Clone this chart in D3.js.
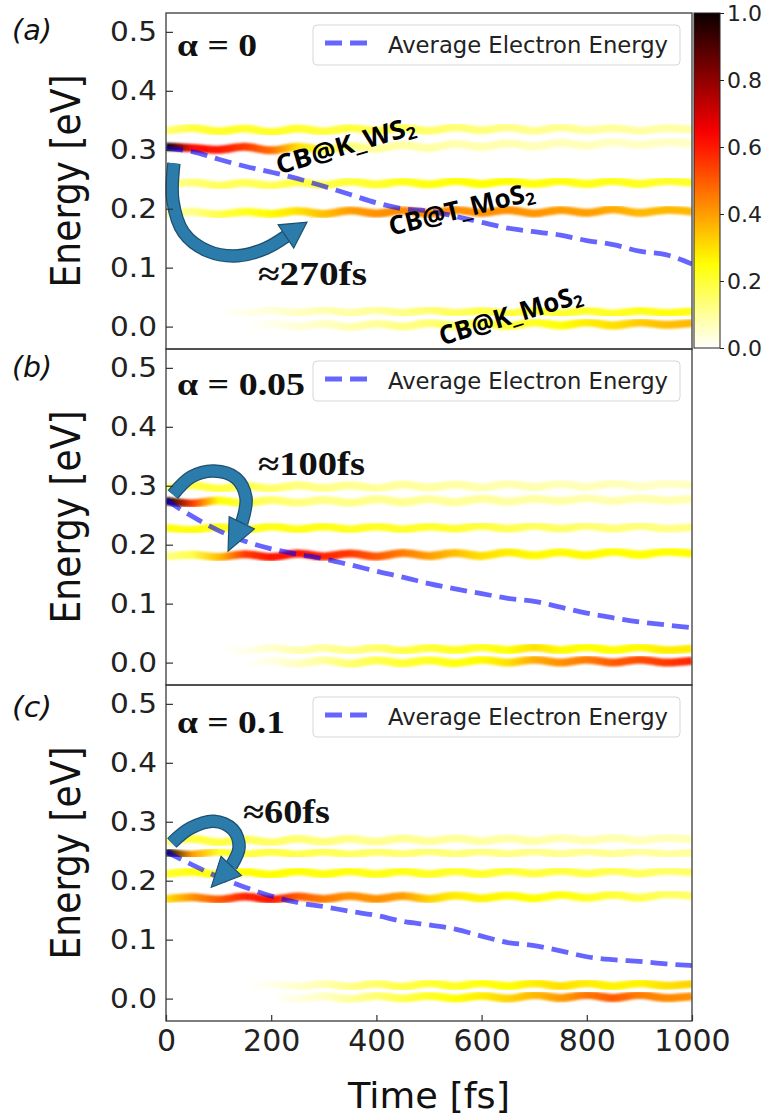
<!DOCTYPE html>
<html>
<head>
<meta charset="utf-8">
<script src="https://cdn.jsdelivr.net/npm/d3@7"></script>
<style>
    body { margin: 0; background: #fff; }
</style>
</head>
<body>
<svg id="chart" width="762" height="1120"></svg>
<script>
// time grid (fs) shared by every series
const times = [0, 50, 100, 150, 200, 250, 300, 350, 400, 450, 500, 550, 600, 650, 700, 750, 800, 850, 900, 950, 1000];

const yTicks = [0, 0.1, 0.2, 0.3, 0.4, 0.5];
const xTicks = [0, 200, 400, 600, 800, 1000];
const cbTicks = [0, 0.2, 0.4, 0.6, 0.8, 1.0];

const panelLabels = ["(a)", "(b)", "(c)"];
const alphaLabels = ["α = 0", "α = 0.05", "α = 0.1"];
const transferLabels = ["≈270fs", "≈100fs", "≈60fs"];
const legendLabel = "Average Electron Energy";
const stateNames = ["CB@K_WS", "CB@T_MoS", "CB@K_MoS"];

// average electron energy (eV)
const avgA = [0.302, 0.297, 0.284, 0.272, 0.262, 0.251, 0.238, 0.224, 0.210, 0.200, 0.196, 0.187, 0.177, 0.167, 0.161, 0.155, 0.146, 0.139, 0.128, 0.122, 0.106];
const avgB = [0.276, 0.248, 0.224, 0.206, 0.193, 0.184, 0.176, 0.166, 0.155, 0.145, 0.134, 0.125, 0.117, 0.109, 0.104, 0.094, 0.084, 0.076, 0.069, 0.064, 0.059];
const avgC = [0.249, 0.227, 0.206, 0.189, 0.174, 0.163, 0.156, 0.148, 0.141, 0.131, 0.125, 0.118, 0.106, 0.095, 0.090, 0.081, 0.071, 0.066, 0.063, 0.059, 0.056];

// state energies (eV), one row per band, panel (a)
const energyA = [
    [0.332, 0.337, 0.331, 0.336, 0.330, 0.336, 0.331, 0.337, 0.332, 0.337, 0.332, 0.338, 0.333, 0.338, 0.332, 0.338, 0.333, 0.337, 0.332, 0.337, 0.334],
    [0.305, 0.303, 0.300, 0.305, 0.299, 0.305, 0.300, 0.306, 0.302, 0.308, 0.303, 0.310, 0.305, 0.311, 0.306, 0.312, 0.307, 0.313, 0.308, 0.313, 0.310],
    [0.240, 0.245, 0.239, 0.244, 0.239, 0.245, 0.240, 0.246, 0.241, 0.246, 0.241, 0.247, 0.242, 0.247, 0.242, 0.247, 0.242, 0.247, 0.242, 0.247, 0.244],
    [0.191, 0.195, 0.190, 0.195, 0.191, 0.196, 0.191, 0.197, 0.192, 0.197, 0.192, 0.198, 0.193, 0.198, 0.192, 0.198, 0.193, 0.199, 0.193, 0.198, 0.195],
    [0.025, 0.022, 0.027, 0.022, 0.028, 0.023, 0.028, 0.023, 0.028, 0.023, 0.028, 0.023, 0.027, 0.022, 0.027, 0.022, 0.027, 0.022, 0.027, 0.023, 0.026],
    [0.002, -0.001, 0.004, -0.001, 0.005, 0.000, 0.005, -0.001, 0.005, 0.000, 0.006, 0.001, 0.006, 0.001, 0.007, 0.002, 0.007, 0.002, 0.007, 0.003, 0.006]
];
// normalised occupation, panel (a)
const weightA = [
    [0.14, 0.19, 0.21, 0.21, 0.21, 0.21, 0.19, 0.19, 0.18, 0.17, 0.15, 0.14, 0.13, 0.12, 0.11, 0.11, 0.10, 0.10, 0.09, 0.09, 0.09],
    [1.00, 0.62, 0.60, 0.55, 0.47, 0.30, 0.18, 0.13, 0.10, 0.09, 0.09, 0.08, 0.08, 0.08, 0.07, 0.07, 0.07, 0.06, 0.06, 0.06, 0.06],
    [0.11, 0.14, 0.16, 0.17, 0.17, 0.19, 0.19, 0.20, 0.21, 0.23, 0.24, 0.25, 0.25, 0.25, 0.24, 0.24, 0.23, 0.23, 0.22, 0.21, 0.21],
    [0.08, 0.12, 0.18, 0.22, 0.26, 0.30, 0.35, 0.40, 0.42, 0.43, 0.43, 0.42, 0.42, 0.42, 0.41, 0.40, 0.40, 0.38, 0.36, 0.36, 0.36],
    [0.00, 0.00, 0.00, 0.02, 0.04, 0.06, 0.08, 0.09, 0.10, 0.12, 0.14, 0.16, 0.18, 0.19, 0.20, 0.21, 0.21, 0.22, 0.23, 0.24, 0.24],
    [0.00, 0.00, 0.00, 0.00, 0.02, 0.04, 0.06, 0.08, 0.10, 0.12, 0.14, 0.16, 0.18, 0.20, 0.22, 0.25, 0.28, 0.30, 0.33, 0.35, 0.36]
];

const energyB = [
    [0.296, 0.301, 0.295, 0.300, 0.295, 0.301, 0.296, 0.301, 0.296, 0.302, 0.297, 0.302, 0.297, 0.303, 0.298, 0.303, 0.298, 0.304, 0.299, 0.304, 0.301],
    [0.274, 0.270, 0.275, 0.270, 0.276, 0.271, 0.276, 0.271, 0.277, 0.272, 0.277, 0.272, 0.278, 0.273, 0.278, 0.274, 0.279, 0.274, 0.279, 0.275, 0.278],
    [0.229, 0.225, 0.230, 0.225, 0.231, 0.226, 0.231, 0.226, 0.231, 0.226, 0.231, 0.227, 0.232, 0.227, 0.232, 0.227, 0.232, 0.227, 0.232, 0.227, 0.230],
    [0.180, 0.183, 0.179, 0.184, 0.179, 0.185, 0.180, 0.185, 0.180, 0.186, 0.181, 0.186, 0.181, 0.187, 0.182, 0.187, 0.182, 0.188, 0.183, 0.188, 0.185],
    [0.023, 0.019, 0.024, 0.019, 0.025, 0.020, 0.025, 0.020, 0.025, 0.020, 0.025, 0.021, 0.026, 0.021, 0.026, 0.021, 0.026, 0.021, 0.026, 0.021, 0.024],
    [0.002, -0.002, 0.003, -0.003, 0.003, -0.002, 0.004, -0.002, 0.004, -0.001, 0.004, -0.001, 0.005, 0.000, 0.005, 0.000, 0.005, 0.000, 0.005, 0.000, 0.003]
];
const weightB = [
    [0.14, 0.19, 0.19, 0.17, 0.15, 0.13, 0.12, 0.11, 0.10, 0.10, 0.09, 0.09, 0.08, 0.08, 0.08, 0.07, 0.07, 0.07, 0.06, 0.06, 0.06],
    [1.00, 0.55, 0.25, 0.19, 0.15, 0.13, 0.12, 0.12, 0.11, 0.11, 0.10, 0.10, 0.10, 0.09, 0.09, 0.09, 0.08, 0.08, 0.08, 0.08, 0.08],
    [0.24, 0.24, 0.23, 0.23, 0.23, 0.23, 0.23, 0.22, 0.22, 0.21, 0.21, 0.20, 0.19, 0.17, 0.16, 0.15, 0.14, 0.13, 0.13, 0.12, 0.12],
    [0.12, 0.18, 0.35, 0.55, 0.60, 0.60, 0.58, 0.55, 0.50, 0.45, 0.40, 0.35, 0.30, 0.28, 0.26, 0.26, 0.26, 0.25, 0.25, 0.25, 0.25],
    [0.00, 0.00, 0.00, 0.02, 0.05, 0.08, 0.10, 0.12, 0.15, 0.18, 0.20, 0.22, 0.22, 0.25, 0.30, 0.26, 0.25, 0.25, 0.26, 0.28, 0.28],
    [0.00, 0.00, 0.00, 0.00, 0.03, 0.06, 0.10, 0.14, 0.18, 0.20, 0.22, 0.24, 0.26, 0.30, 0.38, 0.42, 0.45, 0.50, 0.52, 0.55, 0.58]
];

const energyC = [
    [0.266, 0.271, 0.265, 0.270, 0.265, 0.271, 0.266, 0.271, 0.266, 0.272, 0.267, 0.272, 0.267, 0.272, 0.267, 0.273, 0.268, 0.273, 0.268, 0.273, 0.270],
    [0.248, 0.244, 0.249, 0.244, 0.249, 0.244, 0.249, 0.244, 0.249, 0.245, 0.250, 0.245, 0.250, 0.245, 0.250, 0.245, 0.250, 0.245, 0.250, 0.245, 0.248],
    [0.211, 0.215, 0.210, 0.215, 0.210, 0.216, 0.211, 0.216, 0.211, 0.216, 0.211, 0.216, 0.211, 0.217, 0.212, 0.217, 0.212, 0.217, 0.212, 0.217, 0.214],
    [0.169, 0.172, 0.168, 0.173, 0.168, 0.173, 0.169, 0.174, 0.169, 0.174, 0.169, 0.175, 0.170, 0.175, 0.170, 0.176, 0.171, 0.176, 0.171, 0.177, 0.174],
    [0.023, 0.019, 0.024, 0.019, 0.025, 0.020, 0.025, 0.020, 0.025, 0.020, 0.026, 0.021, 0.026, 0.021, 0.026, 0.021, 0.026, 0.021, 0.026, 0.022, 0.025],
    [0.003, -0.001, 0.004, -0.002, 0.004, -0.001, 0.004, -0.001, 0.005, 0.000, 0.005, 0.000, 0.005, 0.000, 0.006, 0.001, 0.006, 0.001, 0.006, 0.001, 0.004]
];
const weightC = [
    [0.12, 0.19, 0.19, 0.17, 0.15, 0.14, 0.13, 0.12, 0.11, 0.11, 0.10, 0.10, 0.09, 0.09, 0.09, 0.08, 0.08, 0.08, 0.07, 0.07, 0.07],
    [1.00, 0.40, 0.22, 0.19, 0.19, 0.18, 0.17, 0.16, 0.15, 0.14, 0.14, 0.13, 0.13, 0.12, 0.12, 0.11, 0.11, 0.11, 0.10, 0.10, 0.10],
    [0.21, 0.24, 0.25, 0.25, 0.25, 0.25, 0.24, 0.24, 0.23, 0.23, 0.22, 0.21, 0.21, 0.20, 0.19, 0.19, 0.18, 0.17, 0.16, 0.15, 0.15],
    [0.30, 0.42, 0.50, 0.58, 0.60, 0.50, 0.45, 0.42, 0.42, 0.40, 0.32, 0.28, 0.27, 0.26, 0.25, 0.24, 0.22, 0.20, 0.18, 0.16, 0.15],
    [0.00, 0.00, 0.00, 0.00, 0.02, 0.05, 0.08, 0.12, 0.15, 0.18, 0.20, 0.22, 0.24, 0.25, 0.28, 0.30, 0.28, 0.27, 0.27, 0.30, 0.32],
    [0.00, 0.00, 0.00, 0.00, 0.00, 0.03, 0.06, 0.10, 0.14, 0.18, 0.22, 0.25, 0.28, 0.32, 0.36, 0.40, 0.46, 0.50, 0.45, 0.43, 0.42]
];

// curved transfer arrows in data units [t (fs), E (eV)], last point is the tip
const arrowA = [[15, 0.277], [13, 0.214], [34, 0.159], [80, 0.128], [137, 0.120], [190, 0.133], [228, 0.153], [268, 0.177]];
const arrowB = [[13, 0.285], [48, 0.315], [91, 0.325], [133, 0.313], [152, 0.280], [144, 0.237], [118, 0.189]];
const arrowC = [[11, 0.264], [46, 0.289], [91, 0.301], [127, 0.287], [139, 0.257], [124, 0.225], [86, 0.189]];

// state name anchors in panel (a): [t, E, angle, length]
const stateNamePos = [[215, 0.258, -16.5, 144], [428, 0.154, -14, 149], [525, -0.032, -17, 148]];

// matplotlib "hot_r"
function hotR(v) {
    let s = 1 - Math.max(0, Math.min(1, v));
    let r = s < 0.365079 ? 0.0416 + s / 0.365079 * 0.9584 : 1;
    let g = s < 0.365079 ? 0 : (s < 0.746032 ? (s - 0.365079) / 0.380953 : 1);
    let b = s < 0.746032 ? 0 : (s - 0.746032) / 0.253968;
    return d3.rgb(r * 255, g * 255, b * 255).formatHex();
}

const left = 166, right = 692, panelH = 336;
const panels = [
    {top: 13, avg: avgA, energy: energyA, weight: weightA, arrow: arrowA, labelY: 40, alphaY: 56, alphaW: 80, transfer: [258, 285, 109]},
    {top: 349, avg: avgB, energy: energyB, weight: weightB, arrow: arrowB, labelY: 377, alphaY: 395, alphaW: 128, transfer: [258, 475, 107]},
    {top: 685, avg: avgC, energy: energyC, weight: weightC, arrow: arrowC, labelY: 717, alphaY: 733, alphaW: 108, transfer: [243, 823, 87]}
];

const svg = d3.select("#chart");
const defs = svg.append("defs");
defs.append("filter")
    .attr("id", "soft")
    .attr("x", "-5%").attr("y", "-60%").attr("width", "110%").attr("height", "220%")
    .append("feGaussianBlur")
    .attr("stdDeviation", 0.9);

const x = d3.scaleLinear().domain([0, 1000]).range([left, right]);

panels.forEach((p, i) => {
    let y = d3.scaleLinear().domain([-0.038, 0.532]).range([p.top + panelH, p.top]);
    let g = svg.append("g");

    defs.append("clipPath").attr("id", "clip" + i)
        .append("rect")
        .attr("x", left).attr("y", p.top)
        .attr("width", right - left).attr("height", panelH);
    let plot = g.append("g").attr("clip-path", `url(#clip${i})`);

    let bandLine = d3.line()
        .x((d, k) => x(times[k]))
        .y(d => y(d))
        .curve(d3.curveCatmullRom);

    p.energy.forEach((band, j) => {
        let grad = defs.append("linearGradient")
            .attr("id", `w${i}_${j}`)
            .attr("gradientUnits", "userSpaceOnUse")
            .attr("x1", x(times[0])).attr("x2", x(times[times.length - 1]))
            .attr("y1", 0).attr("y2", 0);
        p.weight[j].forEach((w, k) => {
            grad.append("stop")
                .attr("offset", (x(times[k]) - left) / (right - left))
                .attr("stop-color", hotR(w));
        });
        plot.append("path")
            .datum(band)
            .attr("d", bandLine)
            .attr("fill", "none")
            .attr("stroke", `url(#w${i}_${j})`)
            .attr("stroke-width", 8)
            .attr("filter", "url(#soft)");
    });

    plot.append("path")
        .datum(p.avg)
        .attr("d", d3.line().x((d, k) => x(times[k])).y(d => y(d)).curve(d3.curveMonotoneX))
        .attr("fill", "none")
        .attr("stroke", "#0000ff")
        .attr("stroke-opacity", 0.6)
        .attr("stroke-width", 4.8)
        .attr("stroke-dasharray", "17,8");

    // transfer arrow
    let pts = p.arrow.map(d => [x(d[0]), y(d[1])]);
    let tip = pts[pts.length - 1], base = pts[pts.length - 2];
    let body = pts.slice(0, -1);
    let arrowLine = d3.line().curve(d3.curveCatmullRom);
    g.append("path").attr("d", arrowLine(body))
        .attr("fill", "none").attr("stroke", "#1d4f70").attr("stroke-width", 13.5);
    g.append("path").attr("d", arrowLine(body))
        .attr("fill", "none").attr("stroke", "#2b7cab").attr("stroke-width", 11);
    let dx = tip[0] - base[0], dy = tip[1] - base[1];
    let len = Math.hypot(dx, dy);
    let nx = -dy / len * 14, ny = dx / len * 14;
    g.append("polygon")
        .attr("points", [[base[0] + nx, base[1] + ny], tip, [base[0] - nx, base[1] - ny]].map(d => d.join(",")).join(" "))
        .attr("fill", "#2b7cab")
        .attr("stroke", "#1d4f70")
        .attr("stroke-width", 1.2);

    g.append("rect")
        .attr("x", left).attr("y", p.top)
        .attr("width", right - left).attr("height", panelH)
        .attr("fill", "none")
        .attr("stroke", "#3a3a3a")
        .attr("stroke-width", 1.3);

    let ya = g.append("g")
        .attr("transform", `translate(${left},0)`)
        .call(d3.axisLeft(y).tickValues(yTicks).tickFormat(d3.format(".1f"))
            .tickSizeInner(-7).tickSizeOuter(0).tickPadding(9));
    ya.select(".domain").remove();
    ya.selectAll("line").attr("stroke", "#333").attr("stroke-width", 1.2);
    ya.selectAll("text")
        .attr("font-family", "DejaVu Sans")
        .attr("font-size", 27)
        .attr("fill", "#222")
        .attr("textLength", 47)
        .attr("lengthAdjust", "spacingAndGlyphs");

    g.append("text")
        .attr("transform", `translate(80,${p.top + panelH / 2}) scale(1.25,1) rotate(-90)`)
        .attr("text-anchor", "middle")
        .attr("font-family", "DejaVu Sans")
        .attr("font-size", 33)
        .attr("fill", "#111")
        .attr("textLength", 213)
        .attr("lengthAdjust", "spacingAndGlyphs")
        .text("Energy [eV]");

    g.append("text")
        .attr("x", 12).attr("y", p.labelY)
        .attr("font-family", "DejaVu Sans")
        .attr("font-style", "italic")
        .attr("font-size", 28)
        .attr("fill", "#111")
        .attr("textLength", 40)
        .attr("lengthAdjust", "spacingAndGlyphs")
        .text(panelLabels[i]);

    g.append("text")
        .attr("x", 177).attr("y", p.alphaY)
        .attr("font-family", "Liberation Serif")
        .attr("font-weight", "bold")
        .attr("font-size", 32)
        .attr("fill", "#111")
        .attr("textLength", p.alphaW)
        .attr("lengthAdjust", "spacingAndGlyphs")
        .text(alphaLabels[i]);

    g.append("text")
        .attr("x", p.transfer[0]).attr("y", p.transfer[1])
        .attr("font-family", "Liberation Serif")
        .attr("font-weight", "bold")
        .attr("font-size", 33)
        .attr("fill", "#111")
        .attr("textLength", p.transfer[2])
        .attr("lengthAdjust", "spacingAndGlyphs")
        .text(transferLabels[i]);

    // legend
    let lg = g.append("g").attr("transform", `translate(313,${p.top + 12})`);
    lg.append("rect")
        .attr("width", 367).attr("height", 40).attr("rx", 4)
        .attr("fill", "#fff").attr("fill-opacity", 0.85)
        .attr("stroke", "#d6d6d6");
    lg.append("line")
        .attr("x1", 12).attr("x2", 56).attr("y1", 18).attr("y2", 18)
        .attr("stroke", "#0000ff").attr("stroke-opacity", 0.6)
        .attr("stroke-width", 4.8).attr("stroke-dasharray", "17,8");
    lg.append("text")
        .attr("x", 75).attr("y", 28)
        .attr("font-family", "DejaVu Sans")
        .attr("font-size", 23)
        .attr("fill", "#222")
        .attr("textLength", 280)
        .attr("lengthAdjust", "spacingAndGlyphs")
        .text(legendLabel);

    if (i == 0) {
        stateNamePos.forEach((s, k) => {
            let t = g.append("text")
                .attr("transform", `translate(${x(s[0])},${y(s[1])}) rotate(${s[2]})`)
                .attr("font-family", "Open Sans")
                .attr("font-weight", "bold")
                .attr("font-size", 26)
                .attr("fill", "#000")
                .attr("textLength", s[3])
                .attr("lengthAdjust", "spacingAndGlyphs");
            t.append("tspan").text(stateNames[k]);
            t.append("tspan").attr("font-size", 17).attr("dy", 4).text("2");
        });
    }

    if (i == 2) {
        let xa = g.append("g")
            .attr("transform", `translate(0,${p.top + panelH})`)
            .call(d3.axisBottom(x).tickValues(xTicks).tickFormat(d3.format("d"))
                .tickSizeInner(-6).tickSizeOuter(0).tickPadding(9));
        xa.select(".domain").remove();
        xa.selectAll("line").attr("stroke", "#333").attr("stroke-width", 1.2);
        xa.selectAll("text")
            .attr("font-family", "DejaVu Sans")
            .attr("font-size", 30)
            .attr("fill", "#222");

        g.append("text")
            .attr("x", (left + right) / 2).attr("y", 1108)
            .attr("text-anchor", "middle")
            .attr("font-family", "DejaVu Sans")
            .attr("font-size", 35)
            .attr("fill", "#111")
            .attr("textLength", 162)
            .attr("lengthAdjust", "spacingAndGlyphs")
            .text("Time [fs]");
    }
});

// colorbar
let cb = d3.scaleLinear().domain([0, 1]).range([13 + 335, 13]);
let cbGrad = defs.append("linearGradient")
    .attr("id", "cbgrad")
    .attr("x1", 0).attr("x2", 0).attr("y1", 1).attr("y2", 0);
d3.range(0, 1.0001, 0.05).forEach(v => {
    cbGrad.append("stop").attr("offset", v).attr("stop-color", hotR(v));
});
svg.append("rect")
    .attr("x", 694).attr("y", cb(1))
    .attr("width", 26).attr("height", cb(0) - cb(1))
    .attr("fill", "url(#cbgrad)")
    .attr("stroke", "#222")
    .attr("stroke-width", 1);
let cba = svg.append("g")
    .attr("transform", "translate(720,0)")
    .call(d3.axisRight(cb).tickValues(cbTicks).tickFormat(d3.format(".1f"))
        .tickSizeInner(4).tickSizeOuter(0).tickPadding(3));
cba.select(".domain").remove();
cba.selectAll("line").attr("stroke", "#222");
cba.selectAll("text")
    .attr("font-family", "DejaVu Sans")
    .attr("font-size", 22)
    .attr("fill", "#222");
</script>
</body>
</html>
